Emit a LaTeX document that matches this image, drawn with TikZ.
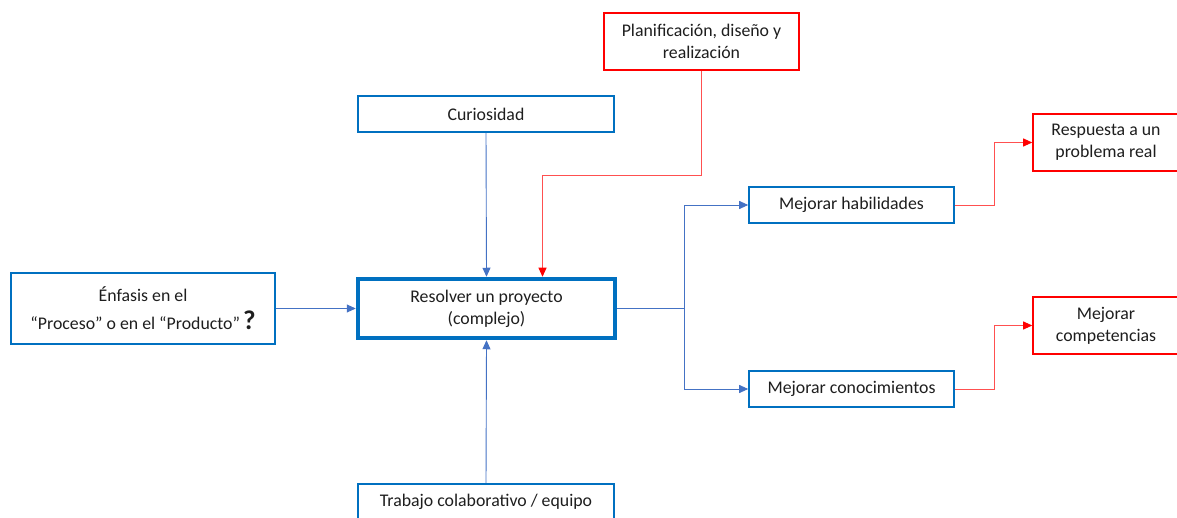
\documentclass[tikz,border=0pt]{standalone}
\usepackage{fontspec}
\setmainfont{Carlito}
\usetikzlibrary{arrows.meta,calc}
\definecolor{boxblue}{RGB}{0,112,192}
\definecolor{linkblue}{RGB}{68,114,196}
\definecolor{linkred}{RGB}{255,80,80}
\definecolor{txt}{RGB}{30,30,30}
\begin{document}
\begin{tikzpicture}[x=1pt,y=-1pt,
  every node/.style={font=\fontsize{17.8}{22}\selectfont, text=txt, align=center, inner sep=0pt},
  bluebox/.style={draw=boxblue, line width=1.6pt, fill=white},
  redbox/.style={draw=red, line width=1.6pt, fill=white},
  bluelink/.style={draw=linkblue, line width=0.9pt, -{Triangle[length=9pt,width=8pt]}},
  redlink/.style={draw=linkred, line width=0.9pt, -{Triangle[length=9pt,width=8pt,color=red]}},
  plainblue/.style={draw=linkblue, line width=0.9pt}]
  \useasboundingbox (0,0) rectangle (1177,518);
  \clip (0,0) rectangle (1177,518);

  % central task
  \node[bluebox, line width=4.5pt, minimum width=257pt, minimum height=59pt] (res) at (486.5,308.5)
    {Resolver un proyecto\\(complejo)};

  % inputs
  \node[bluebox, minimum width=264pt, minimum height=71pt] (enf) at (143,308.5)
    {Énfasis en el\\[6pt]“Proceso” o en el “Producto”\,{\fontsize{27}{27}\selectfont\bfseries ?}};
  \node[bluebox, minimum width=256pt, minimum height=36pt] (cur) at (486,114) {Curiosidad};
  \node[bluebox, minimum width=256pt, minimum height=36pt] (tra) at (486,502) {Trabajo colaborativo / equipo};
  \node[redbox, minimum width=195pt, minimum height=57pt] (pla) at (701.5,41.5)
    {Planificación, diseño y\\realización};

  % outcomes
  \node[bluebox, minimum width=205pt, minimum height=36pt] (hab) at (851.5,205) {Mejorar habilidades};
  \node[bluebox, minimum width=205pt, minimum height=36pt] (con) at (851.5,389) {Mejorar conocimientos};
  \node[redbox, minimum width=146pt, minimum height=57pt] (resp) at (1106,142.5)
    {Respuesta a un\\problema real};
  \node[redbox, minimum width=146pt, minimum height=57pt] (comp) at (1106,325.5)
    {Mejorar\\competencias};

  % connectors into the central task
  \draw[bluelink] (cur.south) -- (res.north);
  \draw[bluelink] (tra.north) -- (res.south);
  \draw[bluelink] (enf.east) -- (res.west);
  \draw[redlink] (pla.south) -- ++(0,105) -| ([xshift=56pt]res.north);

  % connectors towards the outcomes
  \draw[plainblue] (res.east) -- ++(67,0) coordinate (fork);
  \draw[bluelink] (fork) |- (hab.west);
  \draw[bluelink] (fork) |- (con.west);
  \draw[redlink] (hab.east) -- ++(40,0) |- (resp.west);
  \draw[redlink] (con.east) -- ++(40,0) |- (comp.west);
\end{tikzpicture}
\end{document}
